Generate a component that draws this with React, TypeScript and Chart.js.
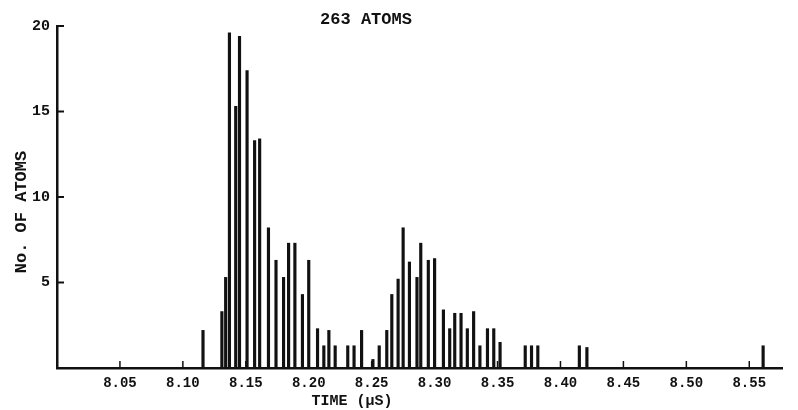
import React, { useEffect, useRef } from "react";
import { Chart, registerables } from "chart.js";

Chart.register(...registerables);

// Arrival time (µs) of each bar
const times = [
  8.116, 8.131, 8.134, 8.137, 8.142, 8.145, 8.151, 8.157, 8.161, 8.168,
  8.174, 8.180, 8.184, 8.189, 8.195, 8.200, 8.207, 8.212, 8.216, 8.221,
  8.231, 8.236, 8.242, 8.251, 8.256, 8.262, 8.266, 8.271, 8.275, 8.280,
  8.286, 8.289, 8.295, 8.300, 8.307, 8.312, 8.316, 8.321, 8.326, 8.331,
  8.336, 8.342, 8.347, 8.352, 8.372, 8.377, 8.382, 8.415, 8.421, 8.561,
];
// Number of atoms for each bar
const counts = [
  2.2, 3.3, 5.3, 19.6, 15.3, 19.4, 17.4, 13.3, 13.4, 8.2,
  6.3, 5.3, 7.3, 7.3, 4.3, 6.3, 2.3, 1.3, 2.2, 1.3,
  1.3, 1.3, 2.2, 0.5, 1.3, 2.2, 4.3, 5.2, 8.2, 6.2,
  5.3, 7.3, 6.3, 6.4, 3.4, 2.3, 3.2, 3.2, 2.3, 3.3,
  1.3, 2.3, 2.3, 1.5, 1.3, 1.3, 1.3, 1.3, 1.2, 1.3,
];
const xTickValues = [8.05, 8.1, 8.15, 8.2, 8.25, 8.3, 8.35, 8.4, 8.45, 8.5, 8.55];
const xTickLabels = ["8.05", "8.10", "8.15", "8.20", "8.25", "8.30", "8.35", "8.40", "8.45", "8.50", "8.55"];
const yTickValues = [5, 10, 15, 20];
const yTickLabels = ["5", "10", "15", "20"];

const chartTitle = "263 ATOMS";
const xTitle = "TIME (µS)";
const yTitle = "No. OF ATOMS";

const INK = "#111";
const FONT = "'Liberation Mono', 'DejaVu Sans Mono', monospace";

const decorPlugin = {
  id: "decor",
  afterDraw(chart: any) {
    const { ctx, chartArea, scales } = chart;
    const xs = scales.x;
    const ys = scales.y;
    ctx.save();
    ctx.strokeStyle = INK;
    // inward tick marks
    ctx.lineWidth = 1.5;
    xTickValues.forEach((v) => {
      const px = xs.getPixelForValue(v);
      ctx.beginPath();
      ctx.moveTo(px, chartArea.bottom);
      ctx.lineTo(px, chartArea.bottom - 7);
      ctx.stroke();
    });
    ctx.lineWidth = 2;
    yTickValues.forEach((v) => {
      const py = ys.getPixelForValue(v);
      ctx.beginPath();
      ctx.moveTo(chartArea.left, py);
      ctx.lineTo(chartArea.left + 7, py);
      ctx.stroke();
    });
    // titles
    ctx.fillStyle = INK;
    ctx.textAlign = "center";
    ctx.textBaseline = "middle";
    ctx.font = `bold 17px ${FONT}`;
    ctx.fillText(chartTitle, 366, 20);
    ctx.font = `bold 15px ${FONT}`;
    ctx.fillText(xTitle, 352, 401);
    ctx.save();
    ctx.translate(22, 212);
    ctx.rotate(-Math.PI / 2);
    ctx.font = `bold 17px ${FONT}`;
    ctx.fillText(yTitle, 0, 0);
    ctx.restore();
    ctx.restore();
  },
};

export default function App() {
  const ref = useRef<HTMLCanvasElement | null>(null);

  useEffect(() => {
    if (!ref.current) return;
    const chart = new Chart(ref.current, {
      type: "bar",
      data: {
        datasets: [
          {
            label: chartTitle,
            data: times.map((t, i) => ({ x: t, y: counts[i] })),
            backgroundColor: INK,
            borderWidth: 0,
            barThickness: 2.5,
          },
        ],
      },
      options: {
        animation: false,
        responsive: false,
        events: [],
        layout: { padding: { top: 26, right: 16, left: 0, bottom: 0 } },
        plugins: {
          legend: { display: false },
          tooltip: { enabled: false },
          title: { display: false },
        },
        scales: {
          x: {
            type: "linear",
            min: 8.0,
            max: 8.576,
            offset: false,
            grid: { display: false, drawTicks: false, offset: false },
            border: { display: true, color: INK, width: 2.5 },
            afterBuildTicks: (s: any) => {
              s.ticks = xTickValues.map((v) => ({ value: v }));
            },
            afterFit: (s: any) => {
              s.height = 42;
            },
            ticks: {
              autoSkip: false,
              maxRotation: 0,
              padding: 7,
              color: INK,
              font: { family: FONT, size: 14, weight: "bold" },
              callback: (_v: any, i: number) => xTickLabels[i],
            },
          },
          y: {
            min: 0,
            max: 20,
            grid: { display: false, drawTicks: false },
            border: { display: true, color: INK, width: 2.5 },
            afterBuildTicks: (s: any) => {
              s.ticks = yTickValues.map((v) => ({ value: v }));
            },
            afterFit: (s: any) => {
              s.width = 57;
            },
            ticks: {
              padding: 7,
              color: INK,
              font: { family: FONT, size: 15, weight: "bold" },
              callback: (_v: any, i: number) => yTickLabels[i],
            },
          },
        },
      },
      plugins: [decorPlugin],
    });
    return () => chart.destroy();
  }, []);

  return (
    <div style={{ position: "absolute", left: 0, top: 0, width: 798, height: 410, background: "#fff" }}>
      <canvas ref={ref} width={798} height={410} style={{ display: "block" }} />
    </div>
  );
}
